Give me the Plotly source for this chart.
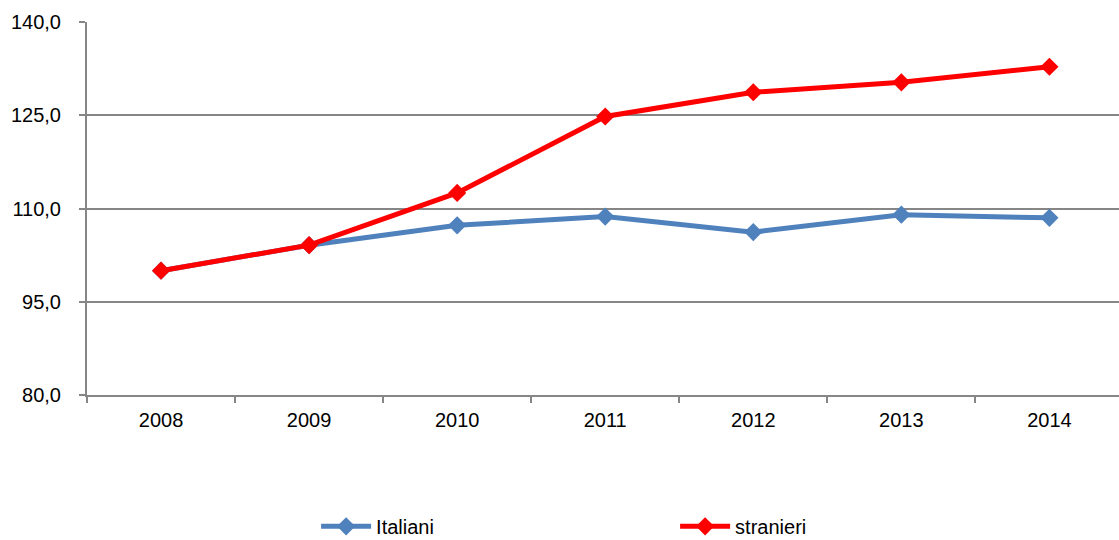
import plotly.graph_objects as go

anni = ["2008", "2009", "2010", "2011", "2012", "2013", "2014"]
italiani = [100.0, 104.1, 107.3, 108.7, 106.2, 109.0, 108.5]
stranieri = [100.0, 104.1, 112.5, 124.8, 128.7, 130.3, 132.8]
y_ticks = [80, 95, 110, 125, 140]
y_labels = ["80,0", "95,0", "110,0", "125,0", "140,0"]

GRID = "#868686"
FONT = dict(family="Liberation Sans, Arial, sans-serif", size=20, color="#000000")

fig = go.Figure()
fig.add_trace(go.Scatter(
    x=anni, y=italiani, name="Italiani", mode="lines+markers",
    line=dict(color="#4F81BD", width=5),
    marker=dict(symbol="diamond", size=14, color="#4F81BD"),
))
fig.add_trace(go.Scatter(
    x=anni, y=stranieri, name="stranieri", mode="lines+markers",
    line=dict(color="#FF0000", width=5),
    marker=dict(symbol="diamond", size=14, color="#FF0000"),
))

fig.update_layout(
    width=1119, height=540,
    margin=dict(l=87, r=0, t=22, b=145, autoexpand=False),
    paper_bgcolor="white", plot_bgcolor="white",
    font=FONT,
    showlegend=True,
    legend=dict(
        orientation="h", x=0.222, xanchor="left", y=-0.352, yanchor="middle",
        font=FONT, entrywidth=294, entrywidthmode="pixels",
        itemwidth=50, traceorder="normal",
    ),
    xaxis=dict(
        type="category", range=[-0.5, 6.47],
        showgrid=False, showline=True, linecolor=GRID, linewidth=2,
        ticks="outside", tickson="boundaries", ticklen=6, tickcolor=GRID, tickwidth=2,
        tickfont=FONT, zeroline=False, ticklabelstandoff=6,
    ),
    yaxis=dict(
        range=[80, 140], tickvals=y_ticks, ticktext=y_labels,
        showgrid=True, gridcolor=GRID, gridwidth=2,
        showline=True, linecolor=GRID, linewidth=2,
        ticks="outside", ticklen=6, tickcolor=GRID, tickwidth=2,
        tickfont=FONT, zeroline=False, ticklabelstandoff=14,
    ),
)

fig.write_html("out.html")
